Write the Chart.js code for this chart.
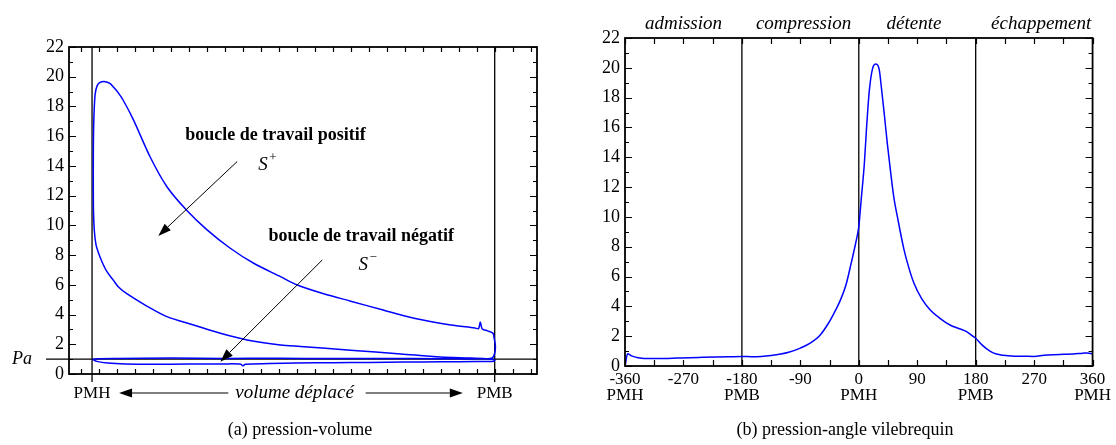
<!DOCTYPE html>
<html><head><meta charset="utf-8">
<script src="https://cdn.jsdelivr.net/npm/chart.js@4.4.1/dist/chart.umd.min.js"></script>
<style>
html,body{margin:0;padding:0;background:#fff;width:1116px;height:445px;overflow:hidden}
#a{position:absolute;left:0;top:0}
#b{position:absolute;left:560px;top:0}
.cap{position:absolute;top:419px;font:18px "Liberation Serif",serif;color:#000;white-space:nowrap;transform:translateX(-50%)}
</style></head><body>
<canvas id="a" width="560" height="445"></canvas>
<canvas id="b" width="556" height="445"></canvas>
<div class="cap" style="left:300px">(a) pression-volume</div>
<div class="cap" style="left:845px">(b) pression-angle vilebrequin</div>
<script>
// ---------- (a) pression-volume ----------
const pvVolume = [
  0.66,0.9,1.5,2.5,4,6,8,8.9,9.0,9.15,10.5,12,14,16,18,20,22,22.95,
  23.0,22.5,21.68,20.0,17.78,14.99,12.21,11.1,9.24,7.76,6.27,4.79,3.58,2.56,2.1,1.82,1.45,1.2,1.0,0.85,0.76,0.71,0.70,0.70,0.71,0.74,0.80,0.90,1.05,1.35,
  1.62,1.82,2.1,2.37,2.93,3.86,4.79,5.90,7.02,8.31,9.61,11.1,12.03,13.5,15.0,16.8,18.52,20.56,21.9,22.1,22.2,22.3,22.6,22.9,
  22.97,23.04,23.0,22.85,
  22.0,20,17,14,11,8,5,2,0.9,0.66
];
const pvPressure = [
  0.98,0.85,0.74,0.68,0.66,0.67,0.68,0.66,0.55,0.66,0.70,0.74,0.76,0.78,0.80,0.82,0.84,0.86,
  0.95,1.03,1.08,1.14,1.35,1.6,1.85,1.95,2.29,2.74,3.3,3.86,4.64,5.4,5.85,6.3,6.9,7.5,8.1,8.7,9.6,11.0,12.5,14.5,16,17.5,18.8,19.35,19.6,19.67,
  19.55,19.3,18.9,18.4,17.1,14.6,12.6,11.0,9.7,8.46,7.45,6.55,5.99,5.4,4.9,4.3,3.75,3.3,3.1,3.05,3.5,3.05,2.9,2.75,
  2.4,1.9,1.4,1.08,
  1.02,1.03,1.05,1.04,1.06,1.05,1.07,1.04,1.02,0.98
];
const pvVolumeTickMarks = [0,1,2,3,4,5,6,7,8,9,10,11,12,13,14,15,16,17,18,19,20,21,22,23,24,25];
const pvVolumeLabels = ['PMH','PMB'];
const PMH_VOL = 0.63, PMB_VOL = 23;
const PA = 1;
const pressureTickMarks = [0,1,2,3,4,5,6,7,8,9,10,11,12,13,14,15,16,17,18,19,20,21,22];

// ---------- (b) pression-angle vilebrequin ----------
const crankAngle = [-360,-356,-350,-340,-320,-300,-280,-260,-240,-220,-200,-180,-165,-150,-135,-120,-108,-90,-73,-60,-47,-38,-29.5,-20,-11.7,-5,0,4,8.6,12,16.3,21.4,26.4,31.5,35,39.1,44,49.3,54,59.5,69.7,77,85,97,110,125,140.5,155,166,174,180,190,202,212,222,240,255,270,285,300,315,330,345,352,360];
const crankPressure = [0.0,0.82,0.68,0.56,0.5,0.5,0.53,0.56,0.58,0.6,0.62,0.64,0.62,0.64,0.7,0.8,0.92,1.2,1.58,2.05,2.85,3.55,4.3,5.4,6.9,8.2,9.35,11.3,13.6,16.0,18.5,19.98,20.25,19.87,18.6,16.96,14.9,12.9,11.3,10.0,7.79,6.6,5.55,4.5,3.76,3.2,2.75,2.5,2.3,2.05,1.86,1.4,1.0,0.8,0.72,0.66,0.65,0.64,0.72,0.76,0.78,0.8,0.86,0.88,0.8];
const angleTicks = [-360,-270,-180,-90,0,90,180,270,360];
const angleTickLabels = [['-360','PMH'],'-270',['-180','PMB'],'-90',['0','PMH'],'90',['180','PMB'],'270',['360','PMH']];
const angleTickMarks = [-360,-315,-270,-225,-180,-135,-90,-45,0,45,90,135,180,225,270,315,360];
const strokeLines = [-180,0,180];
const strokeLabels = ['admission','compression','détente','échappement'];
const strokeLabelAngles = [-270,-85,85,358];
const strokeLabelAlign = ['center','center','center','right'];

Chart.defaults.font.family = '"Liberation Serif", "Times New Roman", serif';
Chart.defaults.color = '#000';

const SERIF = '"Liberation Serif", "Times New Roman", serif';

function frameAndTicks(chart, xMarks, xLen, yMarks) {
  const {ctx, chartArea: a, scales: {x, y}} = chart;
  ctx.save();
  ctx.strokeStyle = '#000';
  ctx.lineWidth = 1.2;
  ctx.beginPath();
  xMarks.forEach(v => {
    const px = Math.round(x.getPixelForValue(v)) + 0.5;
    ctx.moveTo(px, a.bottom); ctx.lineTo(px, a.bottom - xLen);
    ctx.moveTo(px, a.top); ctx.lineTo(px, a.top + xLen);
  });
  yMarks.forEach(v => {
    const py = Math.round(y.getPixelForValue(v)) + 0.5;
    const len = v % 2 === 0 ? 7 : 4;
    ctx.moveTo(a.left, py); ctx.lineTo(a.left + len, py);
    ctx.moveTo(a.right, py); ctx.lineTo(a.right - len, py);
  });
  ctx.stroke();
  ctx.lineWidth = 1.8;
  ctx.strokeRect(a.left, a.top, a.right - a.left, a.bottom - a.top);
  ctx.restore();
}

function arrow(ctx, x1, y1, x2, y2, head, half) {
  const ang = Math.atan2(y2 - y1, x2 - x1);
  const bx = x2 - head * Math.cos(ang), by = y2 - head * Math.sin(ang);
  ctx.beginPath();
  ctx.moveTo(x1, y1); ctx.lineTo(bx, by);
  ctx.stroke();
  ctx.beginPath();
  ctx.moveTo(x2, y2);
  ctx.lineTo(bx + half * Math.sin(ang), by - half * Math.cos(ang));
  ctx.lineTo(bx - half * Math.sin(ang), by + half * Math.cos(ang));
  ctx.closePath();
  ctx.fill();
}

const pvPlugin = {
  id: 'pvDecor',
  beforeDatasetsDraw(chart) {
    const {ctx, chartArea: a, scales: {x, y}} = chart;
    ctx.save();
    ctx.strokeStyle = '#000';
    ctx.lineWidth = 1.3;
    ctx.beginPath();
    const py = y.getPixelForValue(PA);
    ctx.moveTo(a.left - 23, py); ctx.lineTo(a.right, py);
    [PMH_VOL, PMB_VOL].forEach(v => {
      const px = x.getPixelForValue(v);
      ctx.moveTo(px, a.top); ctx.lineTo(px, a.bottom + 8);
    });
    ctx.stroke();
    ctx.restore();
  },
  afterDraw(chart) {
    const {ctx, chartArea: a, scales: {x, y}} = chart;
    frameAndTicks(chart, pvVolumeTickMarks, 5, pressureTickMarks);
    ctx.save();
    ctx.fillStyle = '#000';
    ctx.strokeStyle = '#000';
    // Pa label
    ctx.font = 'italic 18px ' + SERIF;
    ctx.textAlign = 'center'; ctx.textBaseline = 'middle';
    ctx.fillText('Pa', 22, y.getPixelForValue(PA));
    // annotations
    ctx.textAlign = 'left'; ctx.textBaseline = 'middle';
    ctx.font = 'bold 18px ' + SERIF;
    ctx.fillText('boucle de travail positif', x.getPixelForValue(5.81), y.getPixelForValue(16.04));
    ctx.fillText('boucle de travail négatif', x.getPixelForValue(10.43), y.getPixelForValue(9.29));
    ctx.textBaseline = 'alphabetic';
    ctx.font = 'italic 19px ' + SERIF;
    let sx = x.getPixelForValue(9.87), sy = y.getPixelForValue(13.73);
    ctx.fillText('S', sx, sy);
    ctx.font = '13px ' + SERIF;
    ctx.fillText('+', sx + 11, sy - 9);
    ctx.font = 'italic 19px ' + SERIF;
    sx = x.getPixelForValue(15.44); sy = y.getPixelForValue(7.0);
    ctx.fillText('S', sx, sy);
    ctx.font = '13px ' + SERIF;
    ctx.fillText('\u2212', sx + 11, sy - 9);
    // arrows
    ctx.lineWidth = 1;
    arrow(ctx, x.getPixelForValue(8.69), y.getPixelForValue(14.29), x.getPixelForValue(4.31), y.getPixelForValue(9.29), 13, 4.5);
    arrow(ctx, x.getPixelForValue(13.42), y.getPixelForValue(7.67), x.getPixelForValue(7.76), y.getPixelForValue(0.83), 13, 4.5);
    // volume déplacé
    const ly = a.bottom + 19;
    ctx.lineWidth = 1.2;
    arrow(ctx, x.getPixelForValue(8.2), ly, x.getPixelForValue(2.13), ly, 13, 4.5);
    arrow(ctx, x.getPixelForValue(15.83), ly, x.getPixelForValue(21.23), ly, 13, 4.5);
    ctx.font = 'italic 19px ' + SERIF;
    ctx.textAlign = 'center'; ctx.textBaseline = 'middle';
    ctx.fillText('volume déplacé', x.getPixelForValue(11.88), ly);
    ctx.restore();
  }
};

new Chart(document.getElementById('a'), {
  type: 'scatter',
  data: { datasets: [{
    data: pvVolume.map((v, i) => ({x: v, y: pvPressure[i]})),
    showLine: true, borderColor: '#0000ff', borderWidth: 1.5, pointRadius: 0, tension: 0.3, fill: false
  }]},
  options: {
    responsive: false, animation: false, events: [],
    layout: { padding: { left: 29, right: 23, top: 47, bottom: 31 } },
    plugins: { legend: {display: false}, tooltip: {enabled: false} },
    scales: {
      x: {
        type: 'linear', min: -0.65, max: 25.35,
        grid: {display: false, drawTicks: false}, border: {display: false},
        afterBuildTicks: s => { s.ticks = [{value: PMH_VOL}, {value: PMB_VOL}]; },
        afterFit: s => { s.height = 40; },
        ticks: { callback: (v, i) => pvVolumeLabels[i], font: {size: 17, lineHeight: 1.2}, padding: 9, maxRotation: 0, autoSkip: false }
      },
      y: {
        type: 'linear', min: 0, max: 22,
        grid: {display: false, drawTicks: false}, border: {display: false},
        afterFit: s => { s.width = 40; },
        ticks: { stepSize: 2, font: {size: 18}, padding: 5 }
      }
    }
  },
  plugins: [pvPlugin]
});

const caPlugin = {
  id: 'caDecor',
  beforeDatasetsDraw(chart) {
    const {ctx, chartArea: a, scales: {x}} = chart;
    ctx.save();
    ctx.strokeStyle = '#000';
    ctx.lineWidth = 1.3;
    ctx.beginPath();
    strokeLines.forEach(v => {
      const px = x.getPixelForValue(v);
      ctx.moveTo(px, a.top); ctx.lineTo(px, a.bottom);
    });
    ctx.stroke();
    ctx.restore();
  },
  afterDraw(chart) {
    const {ctx, chartArea: a, scales: {x}} = chart;
    frameAndTicks(chart, angleTickMarks, 6, pressureTickMarks);
    ctx.save();
    ctx.fillStyle = '#000';
    ctx.font = 'italic 19px ' + SERIF;
    ctx.textBaseline = 'alphabetic';
    strokeLabels.forEach((t, i) => {
      ctx.textAlign = strokeLabelAlign[i];
      ctx.fillText(t, x.getPixelForValue(strokeLabelAngles[i]), a.top - 9);
    });
    ctx.restore();
  }
};

new Chart(document.getElementById('b'), {
  type: 'scatter',
  data: { datasets: [{
    data: crankAngle.map((v, i) => ({x: v, y: crankPressure[i]})),
    showLine: true, borderColor: '#0000ff', borderWidth: 1.5, pointRadius: 0, cubicInterpolationMode: 'monotone', fill: false
  }]},
  options: {
    responsive: false, animation: false, events: [],
    layout: { padding: { left: 25, right: 19, top: 38, bottom: 39 } },
    plugins: { legend: {display: false}, tooltip: {enabled: false} },
    scales: {
      x: {
        type: 'linear', min: -360, max: 360,
        grid: {display: false, drawTicks: false}, border: {display: false},
        afterBuildTicks: s => { s.ticks = angleTicks.map(v => ({value: v})); },
        afterFit: s => { s.height = 40; },
        ticks: { callback: (v, i) => angleTickLabels[i], font: {size: 17, lineHeight: 0.95}, padding: 5, maxRotation: 0, autoSkip: false }
      },
      y: {
        type: 'linear', min: 0, max: 22,
        grid: {display: false, drawTicks: false}, border: {display: false},
        afterFit: s => { s.width = 40; },
        ticks: { stepSize: 2, font: {size: 18}, padding: 5 }
      }
    }
  },
  plugins: [caPlugin]
});
</script>
</body></html>
